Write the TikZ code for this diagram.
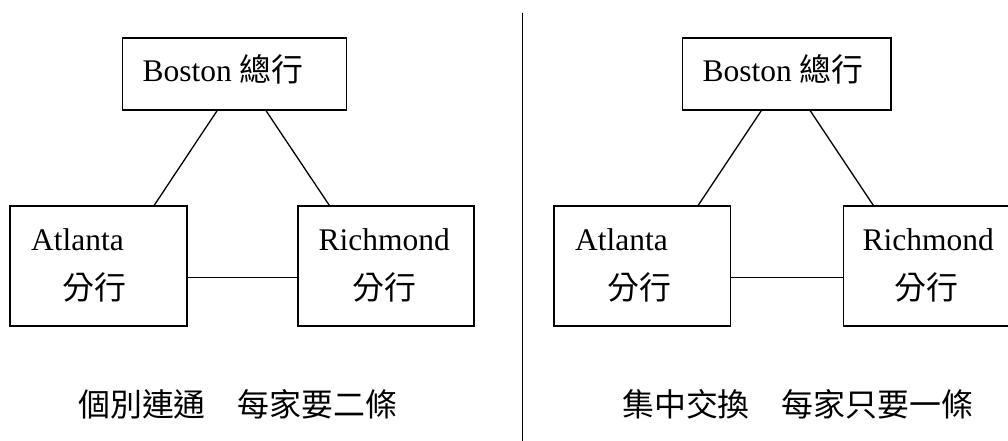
\documentclass[tikz,border=0pt]{standalone}
\usepackage{fontspec}
\setmainfont{Liberation Serif}
\newfontfamily\cjk{Noto Sans CJK TC}[Scale=1.013]
\begin{document}
\begin{tikzpicture}[x=1pt,y=-1pt,
  box/.style={draw,line width=1.5pt,rectangle,inner sep=0pt},
  link/.style={line width=1.3pt},
  lbl/.style={inner sep=0pt,anchor=base west,font=\fontsize{31.5}{36}\selectfont},
  cjklbl/.style={inner sep=0pt,anchor=base west,font=\fontsize{31.5}{36}\selectfont\cjk}]
\useasboundingbox (0,0) rectangle (1008,441);
% left panel
\node[box,minimum width=224pt,minimum height=72pt] (bosL) at (234.5,74) {};
\node[box,minimum width=177pt,minimum height=120pt] (atlL) at (98.5,266) {};
\node[box,minimum width=176pt,minimum height=120pt] (ricL) at (386,266) {};
\node[lbl] (tbosL) at (142.5,82) {Boston {\cjk 總行}};
\node[lbl] (tatlL) at (31,250) {Atlanta};
\node[cjklbl] (tatlL2) at (62,299) {分行};
\node[lbl] (tricL) at (318.5,250) {Richmond};
\node[cjklbl] (tricL2) at (352,299) {分行};
\draw[link] ([xshift=95.3pt]bosL.south west) -- ([xshift=145pt]atlL.north west);
\draw[link] ([xshift=144.3pt]bosL.south west) -- ([xshift=32pt]ricL.north west);
\draw[link] ([yshift=-11.7pt]atlL.east) -- ([yshift=-11.7pt]ricL.west);
\node[cjklbl] (capL) at (78,416) {個別連通　每家要二條};
% divider
\coordinate (dtop) at (522.3,12.7);
\coordinate (dbot) at (522.3,445);
\draw[line width=1.4pt] (dtop) -- (dbot);
% right panel
\node[box,minimum width=208.3pt,minimum height=72pt] (bosR) at (786.85,74) {};
\node[box,minimum width=176.7pt,minimum height=120pt] (atlR) at (642.35,266) {};
\node[box,minimum width=176pt,minimum height=120pt] (ricR) at (931.3,266) {};
\node[lbl] (tbosR) at (702.5,82) {Boston {\cjk 總行}};
\node[lbl] (tatlR) at (575,250) {Atlanta};
\node[cjklbl] (tatlR2) at (607,299) {分行};
\node[lbl] (tricR) at (862.5,250) {Richmond};
\node[cjklbl] (tricR2) at (894,299) {分行};
\draw[link] ([xshift=79.3pt]bosR.south west) -- ([xshift=145pt]atlR.north west);
\draw[link] ([xshift=128.3pt]bosR.south west) -- ([xshift=30.7pt]ricR.north west);
\draw[link] ([yshift=-11.7pt]atlR.east) -- ([yshift=-11.7pt]ricR.west);
\node[cjklbl] (capR) at (622,416) {集中交換　每家只要一條};
\end{tikzpicture}
\end{document}
